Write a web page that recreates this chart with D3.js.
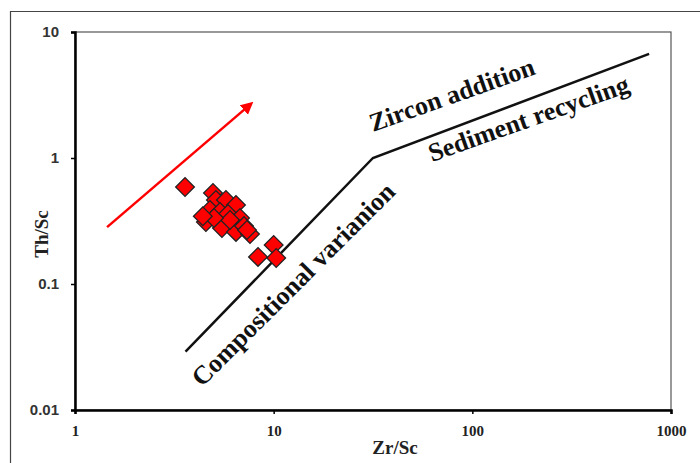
<!DOCTYPE html>
<html>
<head>
<meta charset="utf-8">
<script src="https://cdn.jsdelivr.net/npm/d3@7"></script>
<style>
  body { margin: 0; background: #fff; }
  svg { display: block; }
</style>
</head>
<body>
<svg width="700" height="463"></svg>
<script>
// Th/Sc vs Zr/Sc samples
var zrSc = [3.58, 4.95, 5.12, 5.75, 6.46, 4.78, 5.37, 5.89, 6.77, 4.56, 5.49, 6.46, 7.09, 7.60, 8.34, 10.0, 10.3, 6.03, 5.01, 7.34, 4.40];
var thSc = [0.589, 0.527, 0.464, 0.464, 0.424, 0.387, 0.373, 0.359, 0.334, 0.310, 0.278, 0.259, 0.288, 0.249, 0.164, 0.204, 0.161, 0.322, 0.334, 0.268, 0.345];

// trend line (compositional variation -> zircon addition)
var trendX = [3.6, 31.6, 776];
var trendY = [0.029, 1, 6.7];

// red arrow
var arrowX = [1.45, 7.48];
var arrowY = [0.283, 2.59];

var xTicks = [1, 10, 100, 1000];
var yTicks = [0.01, 0.1, 1, 10];

var labelText = ["Zircon addition", "Sediment recycling", "Compositional varianion"];
var labelX = [31.6, 62.6, 4.36];
var labelY = [1.61, 0.93, 0.015];
var labelAngle = [-19.5, -19.5, -45];

var svg = d3.select("svg"),
    margin = {left: 75, top: 32, right: 29, bottom: 53},
    width = 700 - margin.left - margin.right,
    height = 463 - margin.top - margin.bottom;

// outer frame
svg.append("path")
    .attr("d", "M10.5,463V11.5H700")
    .attr("fill", "none")
    .attr("stroke", "#444")
    .attr("stroke-width", 1.2);

var g = svg.append("g").attr("transform", "translate(" + margin.left + "," + margin.top + ")");

var x = d3.scaleLog().domain([1, 1000]).range([0, width]);
var y = d3.scaleLog().domain([0.01, 10]).range([height, 0]);

// plot frame (top/right)
g.append("rect")
    .attr("width", width).attr("height", height)
    .attr("fill", "none").attr("stroke", "#555").attr("stroke-width", 1.2);

var xAxis = g.append("g")
    .attr("transform", "translate(0," + height + ")")
    .call(d3.axisBottom(x).tickValues(xTicks).tickFormat(d3.format("d")).tickSize(4).tickPadding(11));
xAxis.select(".domain").attr("stroke", "#000").attr("stroke-width", 2.5);
xAxis.selectAll(".tick line").attr("stroke-width", 1.5);
xAxis.selectAll("text")
    .style("font-family", "'Liberation Serif', serif")
    .style("font-weight", "bold").style("font-size", "15px").attr("fill", "#222");

var yAxis = g.append("g")
    .call(d3.axisLeft(y).tickValues(yTicks).tickFormat(function(d) { return d3.format("")(d); }).tickSize(4).tickPadding(12));
yAxis.select(".domain").attr("stroke", "#000").attr("stroke-width", 2.5);
yAxis.selectAll(".tick line").attr("stroke-width", 1.5);
yAxis.selectAll("text")
    .style("font-family", "'Liberation Sans', Arial, sans-serif")
    .style("font-weight", "bold").style("font-size", "15px").attr("fill", "#333");

// axis titles
svg.append("text")
    .attr("x", 395).attr("y", 454)
    .attr("text-anchor", "middle")
    .style("font-family", "'Liberation Serif', serif").style("font-weight", "bold").style("font-size", "19px")
    .attr("fill", "#222")
    .text("Zr/Sc");

svg.append("text")
    .attr("transform", "translate(48," + 234 + ") rotate(-90)")
    .attr("text-anchor", "middle")
    .style("font-family", "'Liberation Serif', serif").style("font-weight", "bold").style("font-size", "19px")
    .attr("fill", "#222")
    .text("Th/Sc");

// trend line
var line = d3.line().x(function(d) { return x(d[0]); }).y(function(d) { return y(d[1]); });
g.append("path")
    .datum(d3.zip(trendX, trendY))
    .attr("d", line)
    .attr("fill", "none").attr("stroke", "#111").attr("stroke-width", 2.5);

// red arrow
svg.append("defs").append("marker")
    .attr("id", "head")
    .attr("viewBox", "0 0 10 10").attr("refX", 5).attr("refY", 5)
    .attr("markerWidth", 5).attr("markerHeight", 5)
    .attr("orient", "auto")
    .append("path").attr("d", "M0,0L10,5L0,10z").attr("fill", "#ff0000");

g.append("path")
    .datum(d3.zip(arrowX, arrowY))
    .attr("d", line)
    .attr("fill", "none").attr("stroke", "#ff0000").attr("stroke-width", 2.5)
    .attr("marker-end", "url(#head)");

// samples
var sym = d3.symbol().type(d3.symbolSquare).size(175);
g.selectAll(".pt")
    .data(d3.zip(zrSc, thSc))
    .enter().append("path")
    .attr("class", "pt")
    .attr("d", sym)
    .attr("transform", function(d) { return "translate(" + x(d[0]) + "," + y(d[1]) + ") rotate(45)"; })
    .attr("fill", "#ff0000").attr("stroke", "#222").attr("stroke-width", 1.3);

// field labels
g.selectAll(".lbl")
    .data(labelText)
    .enter().append("text")
    .attr("class", "lbl")
    .attr("transform", function(d, i) { return "translate(" + x(labelX[i]) + "," + y(labelY[i]) + ") rotate(" + labelAngle[i] + ")"; })
    .style("font-family", "'Liberation Serif', 'Times New Roman', serif")
    .style("font-weight", "bold").style("font-size", "26px")
    .attr("fill", "#111")
    .text(function(d) { return d; });
</script>
</body>
</html>
